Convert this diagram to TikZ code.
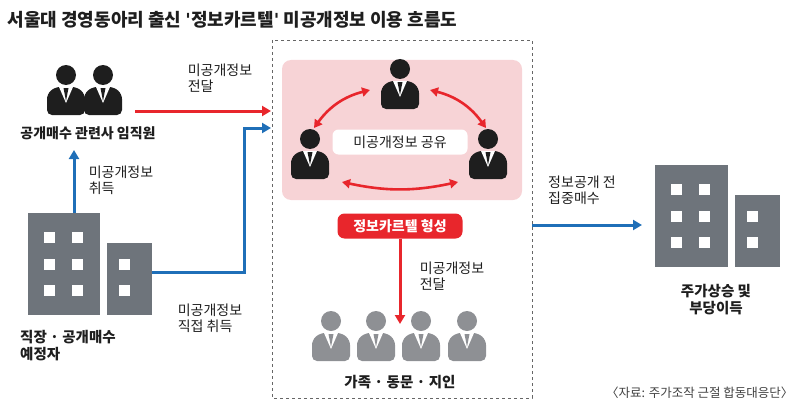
\documentclass[tikz,border=0pt]{standalone}
\usepackage{fontspec}
\setmainfont{Noto Sans CJK KR}
\newfontfamily\latinfont{DejaVu Sans}
\usetikzlibrary{arrows.meta,positioning}
\definecolor{redarr}{HTML}{E8262C}
\definecolor{bluearr}{HTML}{1F6FB8}
\definecolor{pinkbg}{HTML}{F7D3D6}
\definecolor{bldg}{HTML}{6E747B}
\definecolor{dark}{HTML}{1E1E1E}
\definecolor{grayp}{HTML}{8E9094}
\newcommand{\sq}{{\latinfont\bfseries\char39}}
\tikzset{
  person/.pic={
    \fill[pic actions] (0,-23) circle (10);
    \fill[pic actions, rounded corners=5pt] (-19,17) -- (-19,-4) -- (-11,-11) -- (11,-11) -- (19,-4) -- (19,17) -- cycle;
    \fill[white] (-7,-11) -- (7,-11) -- (0,5) -- cycle;
    \fill[pic actions] (-2.5,-10) -- (2.5,-10) -- (0,3) -- cycle;
  },
  win/.style={fill=white, minimum size=11pt, inner sep=0pt},
  lbl/.style={font=\fontsize{14}{16}\selectfont, align=left, text=dark},
  bold lbl/.style={font=\fontsize{14.5}{17}\selectfont\bfseries, align=center, text=dark},
  redline/.style={redarr, line width=3pt, -{Triangle[length=9pt,width=10pt]}},
  blueline/.style={bluearr, line width=3pt, -{Triangle[length=9pt,width=10pt]}},
  twoway/.style={redarr, line width=2.6pt, {Triangle[length=8pt,width=9pt]}-{Triangle[length=8pt,width=9pt]}}
}
\begin{document}
\begin{tikzpicture}[x=1pt, y=-1pt]
\useasboundingbox (0,0) rectangle (800,412);
% title
\node[anchor=west, font=\fontsize{18}{20}\selectfont\bfseries, text=dark] (title) at (4,20) {서울대 경영동아리 출신 \sq 정보카르텔\sq\ 미공개정보 이용 흐름도};
% cartel box
\draw[dashed, gray!80!black, thick] (272,40) rectangle (532,398);
\fill[pinkbg, rounded corners=9pt] (282,60) rectangle (522,200);
\pic[fill=dark] at (400,92) {person};
\pic[fill=dark] at (310,162) {person};
\pic[fill=dark] at (488,162) {person};
\node[fill=white, rounded corners=6pt, minimum width=135pt, minimum height=25pt, font=\fontsize{14}{16}\selectfont, text=dark] (share) at (400,142) {미공개정보 공유};
\coordinate (tl) at (370,90);
\coordinate (tr) at (430,90);
\coordinate (lt) at (314,128);
\coordinate (rt) at (486,128);
\coordinate (lb) at (342,182);
\coordinate (rb) at (458,182);
\draw[twoway] (lt) to[bend left=20] (tl);
\draw[twoway] (tr) to[bend left=20] (rt);
\draw[twoway] (lb) to[bend right=12] (rb);
\node[fill=redarr, rounded corners=7pt, minimum width=125pt, minimum height=25pt, text=white, font=\fontsize{14}{16}\selectfont\bfseries] (cartel) at (400,226) {정보카르텔 형성};
\coordinate (down) at (400,324);
\draw[redline] (cartel.south) -- (down);
\node[lbl] (pass2) at (452,276) {미공개정보\\전달};
\foreach \x in {331,376,421,467}
  \pic[fill=grayp] at (\x,344) {person};
\node[bold lbl] (family) at (400,382) {가족 · 동문 · 지인};
% insiders
\pic[fill=dark] at (66,98) {person};
\pic[fill=dark] at (103,98) {person};
\node[bold lbl, font=\fontsize{14}{16}\selectfont\bfseries] (insider) at (88,133) {공개매수 관련사 임직원};
\coordinate (ins) at (135,111);
\coordinate (boxa) at (271,111);
\draw[redline] (ins) -- (boxa);
\node[lbl] (pass1) at (220,78) {미공개정보\\전달};
% buildings left
\fill[bldg] (28,213) rectangle (100,315);
\fill[bldg] (107,243) rectangle (152,315);
\foreach \x in {49,77} \foreach \y in {237,264,290} \node[win] at (\x,\y) {};
\foreach \y in {264,290} \node[win] at (124,\y) {};
\coordinate (bt) at (74,213);
\coordinate (insb) at (74,150);
\draw[blueline] (bt) -- (insb);
\node[lbl] (get1) at (121,180) {미공개정보\\취득};
\coordinate (br) at (152,272);
\coordinate (boxb) at (271,128);
\draw[blueline] (br) -- (244,272) -- (244,128) -- (boxb);
\node[lbl] (get2) at (210,318) {미공개정보\\직접 취득};
\node[bold lbl, font=\fontsize{14.5}{17}\selectfont\bfseries, align=left] (work) at (68,346) {직장 · 공개매수\\예정자};
% right side
\coordinate (boxr) at (532,225);
\coordinate (mk) at (642,225);
\draw[blueline] (boxr) -- (mk);
\node[lbl] (buy) at (582,190) {정보공개 전\\집중매수};
\fill[bldg] (655,165) rectangle (728,267);
\fill[bldg] (735,195) rectangle (780,267);
\foreach \x in {676,704} \foreach \y in {189,216,242} \node[win] at (\x,\y) {};
\foreach \y in {216,242} \node[win] at (752,\y) {};
\node[bold lbl] (gain) at (716,300) {주가상승 및\\부당이득};
\node[anchor=east, font=\fontsize{12.5}{14}\selectfont, text=dark!85] (src) at (797,393) {〈자료: 주가조작 근절 합동대응단〉};
\end{tikzpicture}
\end{document}
